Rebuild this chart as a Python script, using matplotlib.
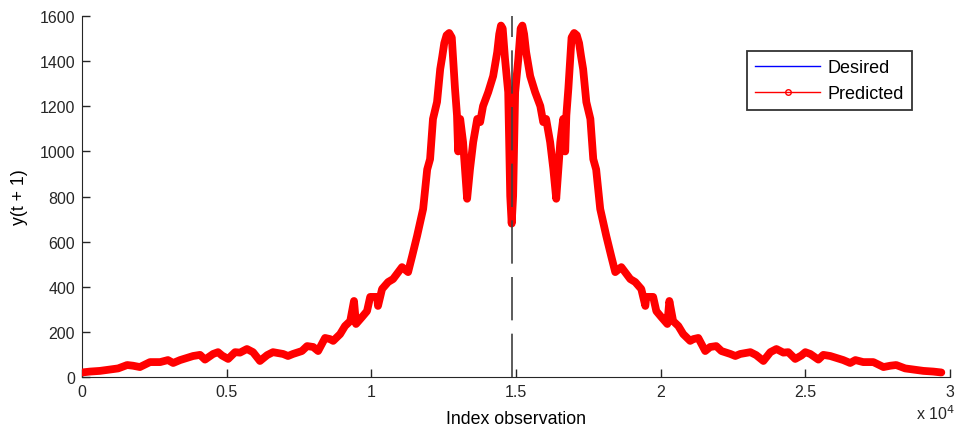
import matplotlib
matplotlib.use("Agg")
from matplotlib import pyplot as plt
from matplotlib.lines import Line2D

plt.rcParams['font.family'] = ['Liberation Sans', 'DejaVu Sans']

# observation index and output value, rising half then falling half
obs_index = [
    0, 280, 620, 970, 1250, 1560, 1760, 2000, 2350, 2700, 2970, 3150, 3390,
    3840, 4080, 4250, 4530, 4700, 4840, 5050, 5290, 5460, 5700, 5910, 6150,
    6400, 6600, 6950, 7120, 7290, 7600, 7780, 7990, 8160, 8400, 8570, 8680,
    8920, 9090, 9270, 9400, 9470, 9680, 9850, 9960, 10200, 10230, 10370,
    10580, 10750, 11060, 11270, 11410, 11580, 11690, 11790, 11930, 12030,
    12130, 12270, 12380, 12450, 12520, 12600, 12690, 12780, 12830, 12890,
    12960, 13000, 13070, 13170, 13310, 13410, 13520, 13660, 13760, 13860,
    14040, 14210, 14350, 14420, 14480, 14540, 14620, 14730, 14760, 14800,
    14850,
    14900, 14940, 14970, 15080, 15160, 15220, 15280, 15350, 15490, 15660,
    15840, 15940, 16040, 16180, 16290, 16390, 16530, 16630, 16700, 16740,
    16810, 16870, 16920, 17010, 17100, 17180, 17250, 17320, 17430, 17570,
    17670, 17770, 17910, 18010, 18120, 18290, 18430, 18640, 18950, 19120,
    19330, 19470, 19500, 19740, 19850, 20020, 20230, 20300, 20430, 20610,
    20780, 21020, 21130, 21300, 21540, 21710, 21920, 22100, 22410, 22580,
    22750, 23100, 23300, 23550, 23790, 24000, 24240, 24410, 24650, 24860,
    25000, 25170, 25450, 25620, 25860, 26310, 26550, 26730, 27000, 27350,
    27700, 27940, 28140, 28450, 28730, 29080, 29420, 29700,
]
y_desired = [
    20, 24, 27, 33, 38, 53, 50, 44, 66, 66, 75, 62, 75,
    93, 98, 77, 102, 110, 95, 80, 110, 108, 124, 110, 71,
    97, 110, 102, 93, 102, 115, 137, 133, 115, 173, 168, 160,
    190, 226, 248, 337, 235, 266, 292, 355, 355, 315, 390,
    421, 434, 487, 465, 536, 625, 687, 745, 920, 966,
    1144, 1219, 1365, 1420, 1480, 1515, 1525, 1505, 1400, 1280,
    1160, 1000, 1144, 1041, 790, 922, 1041, 1144, 1130, 1201,
    1263, 1334, 1440, 1520, 1558, 1545, 1410, 1263, 1068, 802,
    680,
    802, 1068, 1263, 1410, 1545, 1558, 1520, 1440, 1334, 1263,
    1201, 1130, 1144, 1041, 922, 790, 1041, 1144, 1000, 1160,
    1280, 1400, 1505, 1525, 1515, 1480, 1420, 1365, 1219, 1144,
    966, 920, 745, 687, 625, 536, 465, 487, 434, 421,
    390, 315, 355, 355, 292, 266, 235, 337, 248, 226,
    190, 160, 168, 173, 115, 133, 137, 115, 102, 93,
    102, 110, 97, 71, 110, 124, 108, 110, 80, 95,
    110, 102, 77, 98, 93, 75, 62, 75, 66, 66,
    44, 50, 53, 38, 33, 27, 24, 20,
]
y_predicted = list(y_desired)

split_index = 14850
x_ticks = [0, 5000, 10000, 15000, 20000, 25000, 30000]
x_tick_labels = ['0', '0.5', '1', '1.5', '2', '2.5', '3']
y_ticks = [0, 200, 400, 600, 800, 1000, 1200, 1400, 1600]

fig = plt.figure(figsize=(9.57, 4.27), dpi=100)
ax = fig.add_axes([0.0857, 0.1148, 0.907, 0.8452])

ax.plot(obs_index, y_desired, color='#0000ff', linewidth=1, zorder=2)
ax.plot(obs_index, y_predicted, color='#ff0000', linewidth=5.6,
        solid_joinstyle='round', solid_capstyle='round', zorder=3)
ax.axvline(split_index, color='#404040', linewidth=1.2,
           dashes=(26, 8), zorder=4)

ax.set_xlim(0, 30000)
ax.set_ylim(0, 1600)
ax.set_xticks(x_ticks)
ax.set_xticklabels(x_tick_labels)
ax.set_yticks(y_ticks)
ax.tick_params(direction='in', length=6, width=1, labelsize=11.5,
               colors='#262626', pad=5)
ax.spines['top'].set_visible(False)
ax.spines['right'].set_visible(False)
for side in ['left', 'bottom']:
    ax.spines[side].set_color('#262626')

ax.set_xlabel('Index observation', fontsize=12.8, labelpad=8)
ax.set_ylabel('y(t + 1)', fontsize=12.8, labelpad=8)
ax.text(1.006, -0.098, r'x 10$^4$', transform=ax.transAxes, fontsize=11.5,
        ha='right', va='center', color='#262626')

handles = [
    Line2D([], [], color='#0000ff', linewidth=1),
    Line2D([], [], color='#ff0000', linewidth=1, marker='o', markersize=4,
           markerfacecolor='none'),
]
leg = ax.legend(handles, ['Desired', 'Predicted'], loc='upper right',
                bbox_to_anchor=(0.956, 0.903), borderaxespad=0,
                fontsize=13, frameon=True, fancybox=False,
                edgecolor='black', handlelength=3.6, borderpad=0.45,
                labelspacing=0.5, handletextpad=0.4)
leg.get_frame().set_linewidth(1.3)

fig.savefig('out.png', dpi=100)
